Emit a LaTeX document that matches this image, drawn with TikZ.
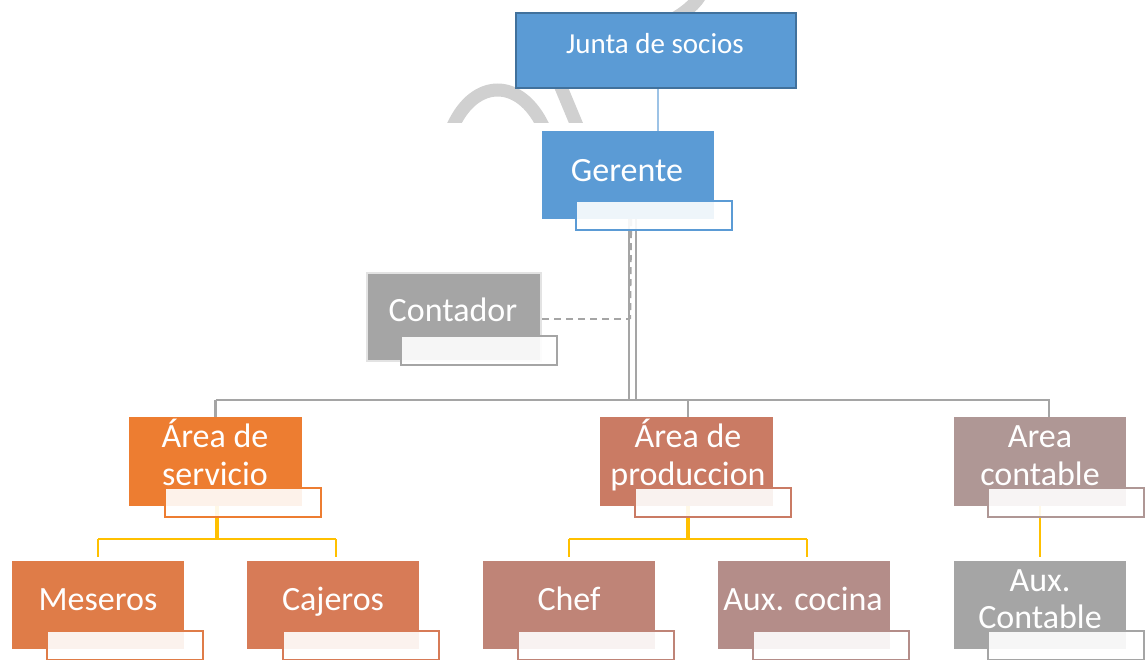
\documentclass[tikz,border=0pt]{standalone}
\usepackage{fontspec}
\setmainfont{Carlito}
\definecolor{cblue}{HTML}{5B9BD5}
\definecolor{cbluedk}{HTML}{41719C}
\definecolor{cbluelt}{HTML}{9DC3E6}
\definecolor{cgray}{HTML}{A5A5A5}
\definecolor{cgraylt}{HTML}{E3E3E3}
\definecolor{cwm}{HTML}{D0D0D0}
\definecolor{cserv}{HTML}{ED7D31}
\definecolor{cprod}{HTML}{CA7B64}
\definecolor{ccontab}{HTML}{AF9795}
\definecolor{cmes}{HTML}{DF7C48}
\definecolor{ccaj}{HTML}{D77B57}
\definecolor{cchef}{HTML}{BF8477}
\definecolor{cauxc}{HTML}{B48D89}
\definecolor{cyel}{HTML}{FFC000}
\begin{document}
\begin{tikzpicture}[x=1pt,y=-1pt,
  box/.style={rectangle, inner sep=0pt, draw=none, fill=#1, minimum width=172pt, minimum height=88pt},
  ovl/.style={rectangle, inner sep=0pt, draw=#1, line width=2pt, fill=white, fill opacity=0.9, draw opacity=1, minimum width=156pt, minimum height=29pt},
  lbl/.style={text=white, inner sep=0pt, anchor=base, font=\fontsize{34}{38}\selectfont},
  wm/.style={draw=cwm, line width=13pt},
  gline/.style={draw=cgray, line width=2.3pt},
  dline/.style={draw=cgray, line width=2.3pt, dash pattern=on 7pt off 5pt},
  yline/.style={draw=cyel, line width=2pt},
]
\useasboundingbox (0,0) rectangle (1146,659);
\clip (0,0) rectangle (1146,659);

% watermark fragment
\begin{scope}
  \clip (0,0) rectangle (1146,122);
  \draw[wm] (453,126) .. controls (475,78) and (520,78) .. (543,126);
  \draw[wm] (578,128) -- (558,80) .. controls (545,50) and (680,40) .. (702,-8);
\end{scope}

% boxes
\node[box=cblue, draw=cbluedk, line width=2pt, minimum width=280pt, minimum height=75pt] (junta) at (656,50.5) {};
\node[box=cblue] (ger) at (628,175) {};
\node[box=cgray, draw=cgraylt, line width=2pt, minimum width=174pt] (conta) at (454,317) {};
\node[box=cserv, minimum width=173pt, minimum height=89pt] (serv) at (215.5,461.5) {};
\node[box=cprod, minimum width=173pt, minimum height=89pt] (prod) at (686.5,461.5) {};
\node[box=ccontab, minimum height=89pt] (contab) at (1040,461.5) {};
\node[box=cmes] (mes) at (98,605) {};
\node[box=ccaj] (caj) at (333,605) {};
\node[box=cchef] (chef) at (569,605) {};
\node[box=cauxc] (auxc) at (804,605) {};
\node[box=cgray] (auxk) at (1040,605) {};

% connectors
\coordinate (bar) at (632,400);
\coordinate (dv) at (630,319);
\draw[draw=cbluelt, line width=1.5pt] ([xshift=2pt]junta.south) -- ([xshift=2pt]junta.south |- ger.north);
\draw[gline] ([xshift=1pt]ger.south) -- ([xshift=1pt]ger.south |- bar);
\draw[gline] ([xshift=8pt]ger.south) -- ([xshift=8pt]ger.south |- bar);
\draw[dline] ([xshift=3pt]ger.south) -- (dv);
\draw[dline] ([yshift=-2pt]conta.east) -- (dv);
\draw[gline] (serv.north |- bar) -- ([xshift=10pt]contab.north |- bar);
\draw[gline] (serv.north |- bar) -- (serv.north);
\draw[gline] ([xshift=1.5pt]prod.north |- bar) -- ([xshift=1.5pt]prod.north);
\draw[gline] ([xshift=9pt]contab.north |- bar) -- ([xshift=9pt]contab.north);

\coordinate (ys) at (217,539);
\coordinate (yp) at (688,539);
\draw[yline, line width=3.5pt] ([xshift=1.5pt]serv.south) -- (ys);
\draw[yline] (mes.north |- ys) -- ([xshift=3pt]caj.north |- ys);
\draw[yline] (mes.north |- ys) -- ([yshift=4pt]mes.north);
\draw[yline] ([xshift=3pt]caj.north |- ys) -- ([xshift=3pt,yshift=4pt]caj.north);
\draw[yline, line width=3.5pt] ([xshift=1.5pt]prod.south) -- (yp);
\draw[yline] (chef.north |- yp) -- ([xshift=3pt]auxc.north |- yp);
\draw[yline] (chef.north |- yp) -- ([yshift=4pt]chef.north);
\draw[yline] ([xshift=3pt]auxc.north |- yp) -- ([xshift=3pt,yshift=4pt]auxc.north);
\draw[yline] (contab.south) -- ([yshift=4pt]auxk.north);

% labels
\node[lbl, font=\fontsize{29}{34}\selectfont] (juntaT) at (655,53) {Junta de socios};
\node[lbl] (gerT) at (627,181) {Gerente};
\node[lbl] (contaT) at (453,321) {Contador};
\node[lbl] (servA) at (215,447) {Área de};
\node[lbl] (servB) at (215,485) {servicio};
\node[lbl] (prodA) at (688,447) {Área de};
\node[lbl] (prodB) at (688,485) {produccion};
\node[lbl] (contabA) at (1040,447) {Area};
\node[lbl] (contabB) at (1040,485) {contable};
\node[lbl] (mesT) at (98,610) {Meseros};
\node[lbl] (cajT) at (333,610) {Cajeros};
\node[lbl] (chefT) at (569,610) {Chef};
\node[lbl] (auxcT) at (803,610) {Aux. cocina};
\node[lbl] (auxkA) at (1040,591) {Aux.};
\node[lbl] (auxkB) at (1040,628) {Contable};

% overlay text boxes
\node[ovl=cblue] (gerO) at (654,215) {};
\node[ovl=cgray] (contaO) at (479,350.5) {};
\node[ovl=cserv] (servO) at (242.5,502.5) {};
\node[ovl=cprod] (prodO) at (713,502.5) {};
\node[ovl=ccontab] (contabO) at (1065.5,502.5) {};
\node[ovl=cmes] (mesO) at (124.5,645.5) {};
\node[ovl=ccaj] (cajO) at (361,645.5) {};
\node[ovl=cchef] (chefO) at (596,645.5) {};
\node[ovl=cauxc] (auxcO) at (831,645.5) {};
\node[ovl=cgray] (auxkO) at (1065.5,645.5) {};
\end{tikzpicture}
\end{document}
